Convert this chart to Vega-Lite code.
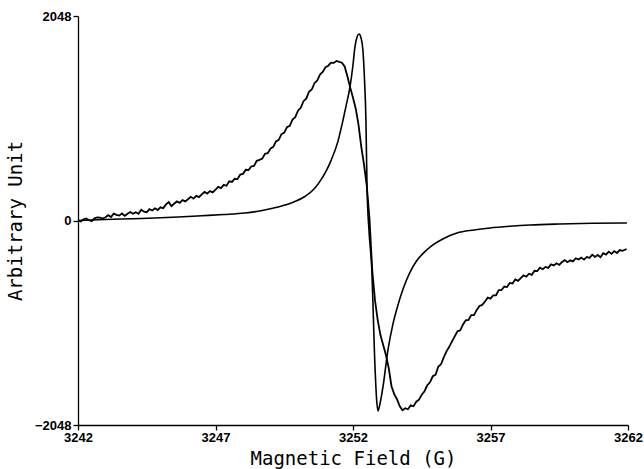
{
  "$schema": "https://vega.github.io/schema/vega-lite/v6.json",
  "width": 550,
  "height": 409,
  "autosize": {"type": "none"},
  "padding": {"left": 78, "top": 16, "right": 16, "bottom": 44},
  "background": "white",
  "config": {"view": {"stroke": null}},
  "datasets": {
    "broad": [
      {"field": 3242.0, "signal": 0}, {"field": 3242.1, "signal": -10}, {"field": 3242.2, "signal": 12}, {"field": 3242.3, "signal": 21},
      {"field": 3242.4, "signal": 3}, {"field": 3242.5, "signal": -8}, {"field": 3242.6, "signal": 21}, {"field": 3242.7, "signal": 30},
      {"field": 3242.8, "signal": 28}, {"field": 3242.9, "signal": 20}, {"field": 3243.0, "signal": 33}, {"field": 3243.1, "signal": 53},
      {"field": 3243.2, "signal": 35}, {"field": 3243.3, "signal": 69}, {"field": 3243.4, "signal": 56}, {"field": 3243.5, "signal": 49},
      {"field": 3243.6, "signal": 70}, {"field": 3243.7, "signal": 46}, {"field": 3243.8, "signal": 68}, {"field": 3243.9, "signal": 85},
      {"field": 3244.0, "signal": 67}, {"field": 3244.1, "signal": 83}, {"field": 3244.2, "signal": 67}, {"field": 3244.3, "signal": 107},
      {"field": 3244.4, "signal": 88}, {"field": 3244.5, "signal": 83}, {"field": 3244.6, "signal": 113}, {"field": 3244.7, "signal": 100},
      {"field": 3244.8, "signal": 122}, {"field": 3244.9, "signal": 105}, {"field": 3245.0, "signal": 132}, {"field": 3245.1, "signal": 124},
      {"field": 3245.2, "signal": 161}, {"field": 3245.3, "signal": 184}, {"field": 3245.4, "signal": 143}, {"field": 3245.5, "signal": 170},
      {"field": 3245.6, "signal": 191}, {"field": 3245.7, "signal": 177}, {"field": 3245.8, "signal": 204}, {"field": 3245.9, "signal": 191},
      {"field": 3246.0, "signal": 213}, {"field": 3246.1, "signal": 237}, {"field": 3246.2, "signal": 220}, {"field": 3246.3, "signal": 247},
      {"field": 3246.4, "signal": 234}, {"field": 3246.5, "signal": 261}, {"field": 3246.6, "signal": 286}, {"field": 3246.7, "signal": 270},
      {"field": 3246.8, "signal": 294}, {"field": 3246.9, "signal": 281}, {"field": 3247.0, "signal": 309}, {"field": 3247.1, "signal": 337},
      {"field": 3247.2, "signal": 325}, {"field": 3247.3, "signal": 357}, {"field": 3247.4, "signal": 348}, {"field": 3247.5, "signal": 392},
      {"field": 3247.6, "signal": 386}, {"field": 3247.7, "signal": 418}, {"field": 3247.8, "signal": 415}, {"field": 3247.9, "signal": 460},
      {"field": 3248.0, "signal": 467}, {"field": 3248.1, "signal": 508}, {"field": 3248.2, "signal": 506}, {"field": 3248.3, "signal": 541},
      {"field": 3248.4, "signal": 546}, {"field": 3248.5, "signal": 598}, {"field": 3248.6, "signal": 607}, {"field": 3248.7, "signal": 620},
      {"field": 3248.8, "signal": 669}, {"field": 3248.9, "signal": 674}, {"field": 3249.0, "signal": 720}, {"field": 3249.1, "signal": 738},
      {"field": 3249.2, "signal": 792}, {"field": 3249.3, "signal": 808}, {"field": 3249.4, "signal": 865}, {"field": 3249.5, "signal": 880},
      {"field": 3249.6, "signal": 935}, {"field": 3249.7, "signal": 948}, {"field": 3249.8, "signal": 1010}, {"field": 3249.9, "signal": 1035},
      {"field": 3250.0, "signal": 1100}, {"field": 3250.1, "signal": 1128}, {"field": 3250.2, "signal": 1195}, {"field": 3250.3, "signal": 1220},
      {"field": 3250.4, "signal": 1290}, {"field": 3250.5, "signal": 1312}, {"field": 3250.6, "signal": 1375}, {"field": 3250.7, "signal": 1402},
      {"field": 3250.8, "signal": 1462}, {"field": 3250.9, "signal": 1488}, {"field": 3251.0, "signal": 1535}, {"field": 3251.1, "signal": 1550},
      {"field": 3251.2, "signal": 1580}, {"field": 3251.3, "signal": 1578}, {"field": 3251.4, "signal": 1598}, {"field": 3251.5, "signal": 1588},
      {"field": 3251.6, "signal": 1580}, {"field": 3251.7, "signal": 1540}, {"field": 3251.8, "signal": 1440}, {"field": 3251.9, "signal": 1330},
      {"field": 3252.0, "signal": 1230}, {"field": 3252.1, "signal": 1120}, {"field": 3252.2, "signal": 960}, {"field": 3252.3, "signal": 740},
      {"field": 3252.4, "signal": 560}, {"field": 3252.5, "signal": 350}, {"field": 3252.6, "signal": 20}, {"field": 3252.7, "signal": -500},
      {"field": 3252.8, "signal": -800}, {"field": 3252.9, "signal": -1000}, {"field": 3253.0, "signal": -1150}, {"field": 3253.1, "signal": -1250},
      {"field": 3253.2, "signal": -1350}, {"field": 3253.3, "signal": -1480}, {"field": 3253.4, "signal": -1660}, {"field": 3253.5, "signal": -1740},
      {"field": 3253.6, "signal": -1790}, {"field": 3253.7, "signal": -1860}, {"field": 3253.8, "signal": -1900}, {"field": 3253.9, "signal": -1880},
      {"field": 3254.0, "signal": -1890}, {"field": 3254.1, "signal": -1850}, {"field": 3254.2, "signal": -1860}, {"field": 3254.3, "signal": -1815},
      {"field": 3254.4, "signal": -1795}, {"field": 3254.5, "signal": -1745}, {"field": 3254.6, "signal": -1710}, {"field": 3254.7, "signal": -1650},
      {"field": 3254.8, "signal": -1620}, {"field": 3254.9, "signal": -1560}, {"field": 3255.0, "signal": -1545}, {"field": 3255.1, "signal": -1465},
      {"field": 3255.2, "signal": -1440}, {"field": 3255.3, "signal": -1370}, {"field": 3255.4, "signal": -1310}, {"field": 3255.5, "signal": -1265},
      {"field": 3255.6, "signal": -1210}, {"field": 3255.7, "signal": -1160}, {"field": 3255.8, "signal": -1110}, {"field": 3255.9, "signal": -1100},
      {"field": 3256.0, "signal": -1042}, {"field": 3256.1, "signal": -1000}, {"field": 3256.2, "signal": -996}, {"field": 3256.3, "signal": -948},
      {"field": 3256.4, "signal": -948}, {"field": 3256.5, "signal": -895}, {"field": 3256.6, "signal": -855}, {"field": 3256.7, "signal": -845},
      {"field": 3256.8, "signal": -811}, {"field": 3256.9, "signal": -773}, {"field": 3257.0, "signal": -783}, {"field": 3257.1, "signal": -749},
      {"field": 3257.2, "signal": -749}, {"field": 3257.3, "signal": -697}, {"field": 3257.4, "signal": -697}, {"field": 3257.5, "signal": -661},
      {"field": 3257.6, "signal": -667}, {"field": 3257.7, "signal": -625}, {"field": 3257.8, "signal": -630}, {"field": 3257.9, "signal": -590},
      {"field": 3258.0, "signal": -604}, {"field": 3258.1, "signal": -577}, {"field": 3258.2, "signal": -549}, {"field": 3258.3, "signal": -563},
      {"field": 3258.4, "signal": -533}, {"field": 3258.5, "signal": -544}, {"field": 3258.6, "signal": -504}, {"field": 3258.7, "signal": -507},
      {"field": 3258.8, "signal": -473}, {"field": 3258.9, "signal": -488}, {"field": 3259.0, "signal": -465}, {"field": 3259.1, "signal": -475},
      {"field": 3259.2, "signal": -440}, {"field": 3259.3, "signal": -450}, {"field": 3259.4, "signal": -428}, {"field": 3259.5, "signal": -445},
      {"field": 3259.6, "signal": -416}, {"field": 3259.7, "signal": -397}, {"field": 3259.8, "signal": -417}, {"field": 3259.9, "signal": -399},
      {"field": 3260.0, "signal": -410}, {"field": 3260.1, "signal": -378}, {"field": 3260.2, "signal": -391}, {"field": 3260.3, "signal": -372},
      {"field": 3260.4, "signal": -392}, {"field": 3260.5, "signal": -365}, {"field": 3260.6, "signal": -374}, {"field": 3260.7, "signal": -342},
      {"field": 3260.8, "signal": -366}, {"field": 3260.9, "signal": -345}, {"field": 3261.0, "signal": -367}, {"field": 3261.1, "signal": -328},
      {"field": 3261.2, "signal": -341}, {"field": 3261.3, "signal": -312}, {"field": 3261.4, "signal": -334}, {"field": 3261.5, "signal": -306},
      {"field": 3261.6, "signal": -325}, {"field": 3261.7, "signal": -296}, {"field": 3261.8, "signal": -304}, {"field": 3261.95, "signal": -285}
    ],
    "narrow": [
      {"field": 3242.0, "signal": 0}, {"field": 3243.0, "signal": 10}, {"field": 3244.0, "signal": 18}, {"field": 3245.0, "signal": 27},
      {"field": 3245.64, "signal": 35}, {"field": 3246.5, "signal": 48}, {"field": 3247.3, "signal": 60}, {"field": 3248.07, "signal": 75},
      {"field": 3248.7, "signal": 100}, {"field": 3249.27, "signal": 135}, {"field": 3249.8, "signal": 180}, {"field": 3250.25, "signal": 240},
      {"field": 3250.6, "signal": 320}, {"field": 3250.84, "signal": 410}, {"field": 3251.05, "signal": 510}, {"field": 3251.2, "signal": 600},
      {"field": 3251.45, "signal": 790}, {"field": 3251.6, "signal": 960}, {"field": 3251.75, "signal": 1150}, {"field": 3251.89, "signal": 1337},
      {"field": 3252.0, "signal": 1560}, {"field": 3252.07, "signal": 1737}, {"field": 3252.15, "signal": 1840}, {"field": 3252.22, "signal": 1867},
      {"field": 3252.29, "signal": 1830}, {"field": 3252.36, "signal": 1707}, {"field": 3252.42, "signal": 1400}, {"field": 3252.47, "signal": 1007},
      {"field": 3252.51, "signal": 335}, {"field": 3252.58, "signal": -95}, {"field": 3252.68, "signal": -470}, {"field": 3252.8, "signal": -1467},
      {"field": 3252.86, "signal": -1800}, {"field": 3252.91, "signal": -1907}, {"field": 3252.97, "signal": -1850}, {"field": 3253.09, "signal": -1667},
      {"field": 3253.27, "signal": -1297}, {"field": 3253.45, "signal": -1040}, {"field": 3253.6, "signal": -880}, {"field": 3253.83, "signal": -679},
      {"field": 3254.07, "signal": -520}, {"field": 3254.31, "signal": -405}, {"field": 3254.55, "signal": -329}, {"field": 3254.8, "signal": -266},
      {"field": 3255.3, "signal": -180}, {"field": 3255.78, "signal": -125}, {"field": 3256.4, "signal": -95}, {"field": 3256.98, "signal": -75},
      {"field": 3257.7, "signal": -58}, {"field": 3258.44, "signal": -45}, {"field": 3259.5, "signal": -35}, {"field": 3260.7, "signal": -28},
      {"field": 3261.96, "signal": -25}
    ]
  },
  "encoding": {
    "x": {
      "field": "field", "type": "quantitative",
      "scale": {"domain": [3242, 3262], "nice": false, "zero": false},
      "axis": {
        "values": [3242, 3247, 3252, 3257, 3262],
        "format": "d", "grid": false,
        "title": "Magnetic Field (G)",
        "titleFont": "DejaVu Sans Mono", "titleFontSize": 19, "titleFontWeight": "normal", "titleColor": "black",
        "titlePadding": 5,
        "labelFont": "Liberation Sans", "labelFontWeight": "bold", "labelFontSize": 13, "labelColor": "black",
        "labelPadding": 1, "tickSize": 5, "tickColor": "black", "domainColor": "black", "domainWidth": 1.3, "tickWidth": 1.3,
        "labelFlush": false
      }
    },
    "y": {
      "field": "signal", "type": "quantitative",
      "scale": {"domain": [-2048, 2048], "nice": false, "zero": false},
      "axis": {
        "values": [-2048, 0, 2048],
        "format": "d", "grid": false,
        "title": "Arbitrary Unit",
        "titleFont": "DejaVu Sans Mono", "titleFontSize": 19, "titleFontWeight": "normal", "titleColor": "black",
        "titlePadding": 9,
        "labelFont": "Liberation Sans", "labelFontWeight": "bold", "labelFontSize": 13, "labelColor": "black",
        "labelPadding": 2, "tickSize": 5, "tickColor": "black", "domainColor": "black", "domainWidth": 1.3, "tickWidth": 1.3,
        "labelFlush": false
      }
    }
  },
  "layer": [
    {
      "data": {"name": "broad"},
      "mark": {"type": "line", "color": "black", "strokeWidth": 1.8, "interpolate": "linear"}
    },
    {
      "data": {"name": "narrow"},
      "mark": {"type": "line", "color": "black", "strokeWidth": 1.6, "interpolate": "monotone"}
    }
  ]
}
